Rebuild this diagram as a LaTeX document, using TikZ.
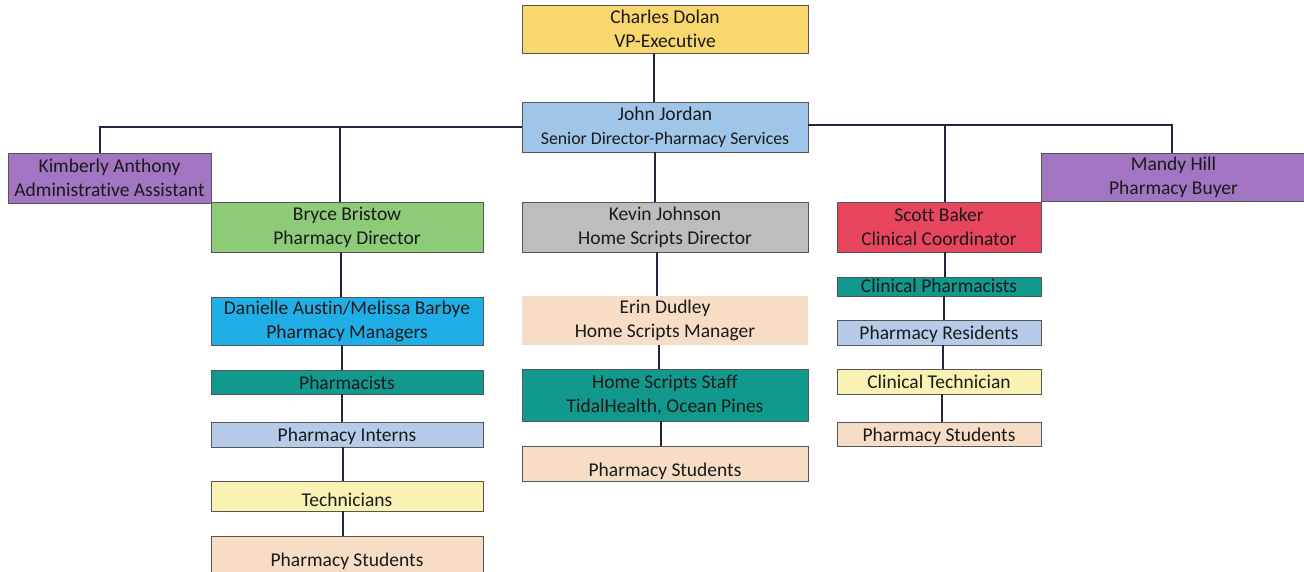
\documentclass[tikz,border=0pt]{standalone}
\usepackage{fontspec}
\setmainfont{Carlito}[Ligatures=NoCommon]
\definecolor{cYellow}{HTML}{F9D66E}
\definecolor{cBlue}{HTML}{9FC5E8}
\definecolor{cPurple}{HTML}{A175C2}
\definecolor{cGreen}{HTML}{8DCB78}
\definecolor{cGray}{HTML}{BDBDBD}
\definecolor{cRed}{HTML}{E8465F}
\definecolor{cCyan}{HTML}{20AEE6}
\definecolor{cTeal}{HTML}{10998C}
\definecolor{cLBlue}{HTML}{B6CBEA}
\definecolor{cLYellow}{HTML}{FAF2B2}
\definecolor{cPeach}{HTML}{F8DDC6}
\definecolor{cLine}{HTML}{1E2640}
\definecolor{cText}{HTML}{1A1A1A}
\definecolor{cBorder}{HTML}{555555}
\tikzset{
  box/.style={draw=cBorder, line width=0.8pt, inner sep=0pt, align=center,
    text=cText, font=\fontsize{19.5}{24}\selectfont},
  single/.style={text height=16pt, text depth=2pt},
  link/.style={draw=cLine, line width=1.4pt},
}
\begin{document}
\begin{tikzpicture}[x=1pt,y=-1pt]
\useasboundingbox (0,0) rectangle (1304,572);
% top
\node[box, fill=cYellow, minimum width=286, minimum height=48] (charles) at (665,29) {Charles Dolan\\VP-Executive};
\node[box, fill=cBlue, minimum width=286, minimum height=50] (john) at (665,127) {John Jordan\\{\fontsize{17.8}{24}\selectfont Senior Director-Pharmacy Services}};
\node[box, fill=cPurple, minimum width=203, minimum height=50] (kim) at (109.5,178) {Kimberly Anthony\\Administrative Assistant};
\node[box, fill=cPurple, minimum width=265, minimum height=48] (mandy) at (1173.5,177) {Mandy Hill\\Pharmacy Buyer};
% second row
\node[box, fill=cGreen, minimum width=272, minimum height=50] (bryce) at (347,227) {Bryce Bristow\\Pharmacy Director};
\node[box, fill=cGray, minimum width=286, minimum height=50] (kevin) at (665,227) {Kevin Johnson\\Home Scripts Director};
\node[box, fill=cRed, minimum width=204, minimum height=50] (scott) at (939,227) {Scott Baker\\Clinical Coordinator};
% left column
\node[box, fill=cCyan, minimum width=272, minimum height=48] (danielle) at (347,321) {Danielle Austin/Melissa Barbye\\Pharmacy Managers};
\node[box, single, fill=cTeal, minimum width=272, minimum height=24] (pharmacists) at (347,382) {Pharmacists};
\node[box, single, fill=cLBlue, minimum width=272, minimum height=25] (interns) at (347,434.5) {Pharmacy Interns};
\node[box, single, fill=cLYellow, minimum width=272, minimum height=30] (techs) at (347,496) {\raisebox{-3.5pt}{Technicians}};
\node[box, single, fill=cPeach, minimum width=272, minimum height=38] (studL) at (347,555) {\raisebox{-4.5pt}{Pharmacy Students}};
% middle column
\node[box, draw=none, fill=cPeach, minimum width=286, minimum height=49] (erin) at (665,320.5) {Erin Dudley\\Home Scripts Manager};
\node[box, fill=cTeal, minimum width=286, minimum height=52] (staff) at (665,395) {Home Scripts Staff\\TidalHealth, Ocean Pines};
\node[box, single, fill=cPeach, minimum width=286, minimum height=35] (studM) at (665,463.5) {\raisebox{-5.5pt}{Pharmacy Students}};
% right column
\node[box, single, fill=cTeal, minimum width=204, minimum height=19] (clinph) at (939,286.5) {\raisebox{1.5pt}{Clinical Pharmacists}};
\node[box, single, fill=cLBlue, minimum width=204, minimum height=25] (resid) at (939,332.5) {Pharmacy Residents};
\node[box, single, fill=cLYellow, minimum width=204, minimum height=25] (clintech) at (939,381.5) {Clinical Technician};
\node[box, single, fill=cPeach, minimum width=204, minimum height=24] (studR) at (939,434) {Pharmacy Students};
% connectors
\draw[link] ([xshift=-11pt]charles.south) -- ([xshift=-11pt]john.north);
\draw[link] (john.west) -| ([xshift=-9.5pt]kim.north);
\draw[link] ([yshift=2pt]john.east) -| ([xshift=-1.5pt]mandy.north);
\draw[link] ([xshift=-7pt]bryce.north) -- ([xshift=-7pt]bryce.north |- john.west);
\draw[link] ([xshift=6pt]scott.north) -- ([xshift=6pt,yshift=2pt]scott.north |- john.east);
\draw[link] ([xshift=-10pt]john.south) -- ([xshift=-10pt]kevin.north);
\draw[link] ([xshift=-6pt]bryce.south) -- ([xshift=-6pt]danielle.north);
\draw[link] ([xshift=-5pt]danielle.south) -- ([xshift=-5pt]pharmacists.north);
\draw[link] ([xshift=-5pt]pharmacists.south) -- ([xshift=-5pt]interns.north);
\draw[link] ([xshift=-4pt]interns.south) -- ([xshift=-4pt]techs.north);
\draw[link] ([xshift=-4pt]techs.south) -- ([xshift=-4pt]studL.north);
\draw[link] ([xshift=-8pt]kevin.south) -- ([xshift=-8pt]erin.north);
\draw[link] ([xshift=-6pt]erin.south) -- ([xshift=-6pt]staff.north);
\draw[link] ([xshift=-4pt]staff.south) -- ([xshift=-4pt]studM.north);
\draw[link] ([xshift=6pt]scott.south) -- ([xshift=6pt]clinph.north);
\draw[link] ([xshift=5pt]clinph.south) -- ([xshift=5pt]resid.north);
\draw[link] ([xshift=4pt]resid.south) -- ([xshift=4pt]clintech.north);
\draw[link] ([xshift=3pt]clintech.south) -- ([xshift=3pt]studR.north);
\end{tikzpicture}
\end{document}
